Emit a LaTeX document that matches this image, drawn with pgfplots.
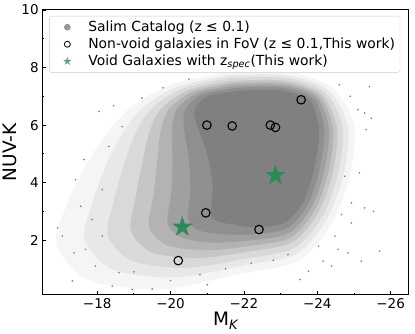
\documentclass[border=0pt]{standalone}
\usepackage{fontspec}
\setmainfont{DejaVu Sans}
\usepackage{pgfplots}
\pgfplotsset{compat=1.18}
\definecolor{seagreen}{HTML}{2E8B57}
\definecolor{ptgray}{HTML}{808080}

% filled five-point star, like matplotlib's '*'
\pgfdeclareplotmark{fstar}{%
  \pgfpathmoveto{\pgfpointpolar{90}{\pgfplotmarksize}}%
  \pgfpathlineto{\pgfpointpolar{126}{0.382\pgfplotmarksize}}%
  \pgfpathlineto{\pgfpointpolar{162}{\pgfplotmarksize}}%
  \pgfpathlineto{\pgfpointpolar{198}{0.382\pgfplotmarksize}}%
  \pgfpathlineto{\pgfpointpolar{234}{\pgfplotmarksize}}%
  \pgfpathlineto{\pgfpointpolar{270}{0.382\pgfplotmarksize}}%
  \pgfpathlineto{\pgfpointpolar{306}{\pgfplotmarksize}}%
  \pgfpathlineto{\pgfpointpolar{342}{0.382\pgfplotmarksize}}%
  \pgfpathlineto{\pgfpointpolar{18}{\pgfplotmarksize}}%
  \pgfpathlineto{\pgfpointpolar{54}{0.382\pgfplotmarksize}}%
  \pgfpathclose
  \pgfusepathqfill
}

\pgfplotsset{cloud/.style={draw=none, forget plot, smooth, fill=ptgray!#1}}

\begin{document}
\begin{tikzpicture}
\begin{axis}[
  at={(0pt,0pt)}, anchor=south west,
  scale only axis,
  width=367pt, height=285pt,
  x dir=reverse,
  xmin=-26.5, xmax=-16.5,
  ymin=0.1, ymax=10,
  xtick={-26,-24,-22,-20,-18},
  xticklabels={−26,−24,−22,−20,−18},
  ytick={2,4,6,8,10},
  yticklabels={2,4,6,8,10},
  minor x tick num=1, minor y tick num=1,
  xtick pos=bottom, ytick pos=left,
  tick align=inside,
  major tick length=4pt, minor tick length=2pt,
  tick style={black, line width=0.8pt},
  axis line style={line width=1pt},
  tick label style={font=\fontsize{13.5}{15}\selectfont},
  every axis x label/.style={at={(axis description cs:0.5,0)}, yshift=-26pt, anchor=center},
  every axis y label/.style={at={(axis description cs:0,0.5)}, xshift=-32pt, rotate=90, anchor=center},
  label style={font=\fontsize{18.5}{20}\selectfont},
  xlabel={M\textsubscript{\itshape K}},
  ylabel={NUV-K},
  legend cell align=left,
  legend style={
    at={(axis description cs:0.019,0.979)}, anchor=north west,
    font=\fontsize{13.9}{16}\selectfont,
    draw=black!20, rounded corners=2pt,
    fill=white, fill opacity=0.8, text opacity=1,
    row sep=1pt, inner sep=3pt,
  },
]

% Salim catalogue cloud, drawn as nested density layers
\addplot[cloud=8] coordinates {
  (-21.50,7.85) (-23.20,7.85) (-24.40,7.30) (-25.00,6.00) (-24.90,4.30)
  (-24.40,2.60) (-23.50,1.30) (-21.80,0.80) (-19.80,0.30) (-17.80,0.60)
  (-16.90,1.80) (-17.10,3.00) (-17.60,4.40) (-18.20,5.60) (-18.90,6.60)
  (-20.00,7.40) (-21.50,7.85)
} -- cycle;
\addplot[cloud=18] coordinates {
  (-21.57,7.73) (-23.16,7.73) (-24.29,7.22) (-24.83,5.96) (-24.72,4.32)
  (-24.26,2.73) (-23.43,1.53) (-21.89,1.10) (-20.14,0.71) (-18.43,0.97)
  (-17.66,2.00) (-17.83,3.16) (-18.21,4.51) (-18.66,5.65) (-19.22,6.58)
  (-20.18,7.33) (-21.57,7.73)
} -- cycle;
\addplot[cloud=30] coordinates {
  (-21.63,7.64) (-23.13,7.64) (-24.20,7.15) (-24.69,5.93) (-24.57,4.33)
  (-24.14,2.83) (-23.37,1.73) (-21.97,1.34) (-20.43,1.04) (-18.96,1.28)
  (-18.29,2.16) (-18.44,3.30) (-18.72,4.60) (-19.04,5.70) (-19.48,6.57)
  (-20.33,7.27) (-21.63,7.64)
} -- cycle;
\addplot[cloud=45] coordinates {
  (-21.69,7.54) (-23.10,7.54) (-24.11,7.08) (-24.54,5.90) (-24.42,4.35)
  (-24.02,2.94) (-23.31,1.92) (-22.04,1.59) (-20.71,1.38) (-19.48,1.58)
  (-18.92,2.33) (-19.04,3.43) (-19.23,4.69) (-19.42,5.74) (-19.74,6.55)
  (-20.48,7.21) (-21.69,7.54)
} -- cycle;
\addplot[cloud=60] coordinates {
  (-21.74,7.46) (-23.08,7.46) (-24.04,7.03) (-24.43,5.88) (-24.30,4.36)
  (-23.92,3.02) (-23.26,2.08) (-22.10,1.79) (-20.94,1.65) (-19.90,1.83)
  (-19.42,2.46) (-19.53,3.54) (-19.64,4.76) (-19.73,5.78) (-19.95,6.54)
  (-20.60,7.16) (-21.74,7.46)
} -- cycle;
\addplot[cloud=75] coordinates {
  (-21.79,7.38) (-23.06,7.38) (-23.97,6.98) (-24.32,5.86) (-24.18,4.37)
  (-23.82,3.10) (-23.21,2.24) (-22.16,1.99) (-21.17,1.92) (-20.32,2.08)
  (-19.92,2.59) (-20.02,3.65) (-20.05,4.83) (-20.04,5.82) (-20.16,6.53)
  (-20.72,7.11) (-21.79,7.38)
} -- cycle;
\addplot[cloud=88] coordinates {
  (-21.84,7.30) (-23.03,7.30) (-23.89,6.92) (-24.19,5.83) (-24.05,4.39)
  (-23.72,3.20) (-23.16,2.41) (-22.23,2.20) (-21.42,2.21) (-20.78,2.34)
  (-20.47,2.74) (-20.54,3.77) (-20.49,4.91) (-20.37,5.86) (-20.39,6.52)
  (-20.85,7.06) (-21.84,7.30)
} -- cycle;
\addplot[cloud=100] coordinates {
  (-21.90,7.20) (-23.00,7.20) (-23.80,6.85) (-24.05,5.80) (-23.90,4.40)
  (-23.60,3.30) (-23.10,2.60) (-22.30,2.45) (-21.70,2.55) (-21.30,2.65)
  (-21.10,2.90) (-21.15,3.90) (-21.00,5.00) (-20.75,5.90) (-20.65,6.50)
  (-21.00,7.00) (-21.90,7.20)
} -- cycle;

% scattered outliers of the catalogue
\addplot[only marks, mark=*, mark size=0.6pt, color=ptgray,
  legend image code/.code={\path[draw=none] (0pt,0pt) -- (34pt,0pt);
    \draw[mark=*, mark size=3pt, color=ptgray] plot coordinates {(15pt,0pt)};}]
coordinates {
  (-18.05,6.47) (-18.45,6.67) (-17.64,4.80) (-17.41,4.10) (-17.05,2.14)
  (-17.32,0.58) (-16.92,2.43) (-17.68,1.68) (-17.95,1.10) (-18.41,0.40)
  (-18.95,0.29) (-17.55,3.18) (-18.14,3.76) (-17.86,2.72) (-18.32,5.26)
  (-18.68,5.95) (-19.22,6.94) (-18.14,2.14) (-18.59,0.87) (-17.37,1.56)
  (-25.47,6.24) (-25.33,5.84) (-25.15,4.34) (-25.29,3.12) (-24.93,3.30)
  (-24.66,2.89) (-25.70,1.62) (-25.20,1.27) (-24.84,1.56) (-24.57,1.68)
  (-24.16,1.27) (-23.76,0.92) (-23.53,0.63) (-24.93,2.60) (-24.75,4.22)
  (-24.48,2.14) (-25.11,6.53) (-25.42,7.34) (-24.03,1.79) (-24.39,1.10)
  (-19.5,0.3) (-20.0,0.6) (-20.8,0.8) (-21.5,1.0) (-22.2,1.2) (-22.8,1.3)
  (-19.0,0.9) (-21.0,0.45) (-23.2,1.5) (-19.8,7.3) (-20.5,7.6) (-24.6,7.4)
  (-24.9,7.0) (-25.53,3.0) (-25.29,6.42)
};
\addlegendentry{Salim Catalog (z ≤ 0.1)}

\addplot[only marks, mark=o, mark size=4.3pt, line width=1.1pt, color=black,
  legend image code/.code={\path[draw=none] (0pt,0pt) -- (34pt,0pt);
    \draw[mark=o, mark size=3pt, line width=0.8pt, color=black] plot coordinates {(15pt,0pt)};}]
coordinates {
  (-20.99,6.00) (-21.68,5.97) (-22.72,6.00) (-22.86,5.92) (-23.56,6.88)
  (-20.96,2.95) (-22.41,2.37) (-20.21,1.29)
};
\addlegendentry{Non-void galaxies in FoV (z ≤ 0.1,This work)}

\addplot[only marks, mark=fstar, mark size=11pt, color=seagreen,
  legend image code/.code={\path[draw=none] (0pt,0pt) -- (34pt,0pt);
    \draw[mark=fstar, mark size=4.3pt, color=seagreen] plot coordinates {(15pt,0pt)};}]
coordinates {
  (-20.32,2.46) (-22.86,4.25)
};
\addlegendentry{Void Galaxies with z\textsubscript{\itshape spec}(This work)}

\end{axis}
\path (-42pt,-39pt) rectangle (373pt,295pt);
\end{tikzpicture}
\end{document}
